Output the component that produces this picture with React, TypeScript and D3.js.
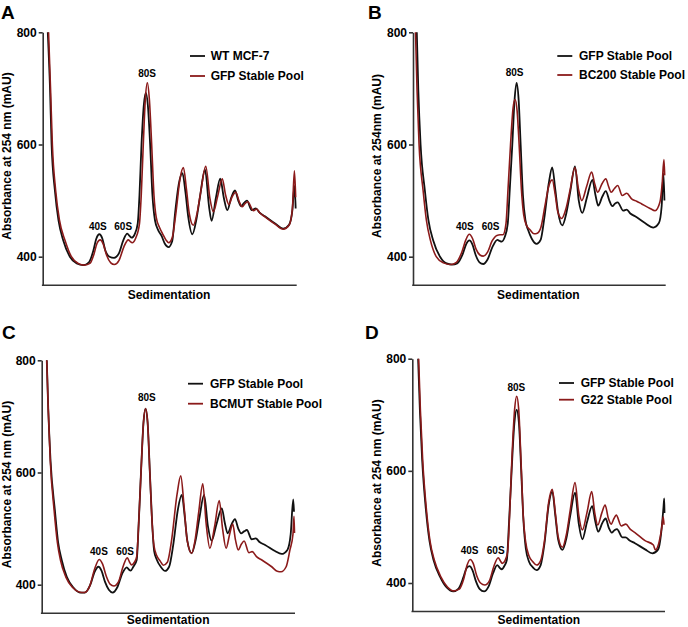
import React, { useEffect, useRef } from "react";
import * as d3 from "d3";

type Pt = [number, number];

// x: position along the gradient (0-100 of the axis), y: absorbance in mAU
const yTicks = [400, 600, 800];
const peakNames = ["40S", "60S", "80S"];

// panel A
const wtMcf7A: Pt[] = [[2.0,800],[2.9,697],[3.5,600],[4.8,518],[6.2,465],[8.1,429],[10.7,400],[13.4,388],[16,385],[18.2,390],[19.9,410],[21.1,432],[22.3,440],[23.5,432],[24.6,412],[26.3,400],[28.1,398],[30,406],[31.8,430],[33.3,441],[34.2,437],[35,434],[36.2,440],[37.4,459],[38.1,510],[38.9,600],[39.8,670],[40.6,692],[41.4,670],[42.3,600],[43.2,510],[44.2,465],[45.5,447],[46.8,437],[48.1,423],[49.5,417],[51,428],[52.1,477],[53.6,530],[55,549],[56.2,515],[57.3,471],[58.9,440],[60.5,466],[61.9,506],[63.9,555],[65.5,489],[66.5,464],[68.2,505],[69.9,539],[71.3,505],[72.7,483],[74.2,505],[75.7,518],[77,500],[78.1,490],[79.3,496],[80.4,500],[82.3,483],[83.9,486],[85.5,478],[87.5,472],[91.5,459],[94.7,450],[97,457],[98.3,483],[99.1,526],[99.6,486]];
const gfpA: Pt[] = [[2.3,800],[3.1,697],[3.8,600],[5.1,518],[6.6,465],[8.8,429],[11.3,400],[14,388],[16.5,385],[18.6,388],[20.2,405],[21.4,424],[22.6,430],[23.8,423],[25.2,402],[26.8,389],[28.2,386],[30,393],[32,418],[33.7,430],[34.5,427],[35.2,425],[36.6,433],[38.1,459],[38.8,510],[39.6,600],[40.4,680],[41.2,710],[42.0,680],[42.9,600],[43.8,510],[44.7,470],[46,452],[47.3,440],[48.5,430],[49.6,425],[51,434],[52.5,480],[54.1,540],[55.4,559],[56.6,520],[57.7,477],[59.3,456],[60.8,478],[62.2,515],[64.2,561],[65.8,505],[67.2,480],[68.9,508],[70.7,539],[72,510],[73.3,493],[74.6,507],[76,515],[77.4,498],[78.6,489],[79.7,495],[80.7,498],[83,482],[84.2,485],[85.5,478],[87.5,471],[91.5,458],[94.7,449],[97,456],[98.3,485],[99.1,553],[99.6,506]];

// panel B
const gfpB: Pt[] = [[1.5,800],[2.1,697],[3.0,600],[4.7,518],[6.1,465],[8.0,429],[10.7,400],[13.3,388],[15.5,386],[17.5,388],[19.7,405],[21.1,423],[22.3,429],[23.5,422],[24.8,403],[26.3,390],[27.8,387],[29.5,395],[31.5,418],[33.4,430],[34.3,428],[35.1,427],[36.3,435],[37.5,459],[38.3,520],[39.3,600],[40.2,680],[41.0,710],[41.8,680],[42.6,600],[43.5,510],[44.5,465],[45.6,447],[47,432],[48.9,423],[50.5,430],[52,470],[53.7,530],[55.1,559],[56.3,520],[57.4,480],[59.1,456],[60.7,478],[62.2,515],[64.1,561],[65.6,500],[67,478],[68.8,505],[71,537],[72.2,510],[73.3,491],[74.9,507],[76.3,517],[77.7,500],[78.9,490],[80,495],[81,497],[83.2,482],[84.6,484],[86,477],[87.9,472],[91.8,460],[95.1,452],[97.3,460],[98.4,490],[99.1,548],[99.5,500]];
const bc200B: Pt[] = [[1.0,800],[1.6,697],[2.4,600],[4.0,518],[5.3,465],[6.9,429],[9.2,400],[12,389],[15,386],[17.2,390],[19.3,408],[20.9,430],[22.3,440],[23.6,432],[25,413],[26.5,403],[27.8,401],[29.5,408],[31.3,428],[33.2,438],[34.5,439],[35.6,439],[36.8,459],[37.6,520],[38.6,600],[39.6,665],[40.4,680],[41.2,660],[42.0,600],[42.9,520],[43.8,475],[45,455],[46.3,448],[47.9,441],[49.2,442],[50.6,452],[52.2,490],[53.8,527],[55.1,537],[56.3,510],[57.3,480],[58.8,468],[60.5,485],[62.2,520],[64.1,559],[65.5,520],[66.8,500],[68.7,525],[70.7,551],[71.9,530],[73.1,515],[74.8,530],[76.3,539],[77.4,525],[78.4,515],[79.8,522],[81,527],[82.8,509],[84.6,513],[86.5,503],[88.5,499],[90.5,494],[93.8,486],[95.8,482],[97.7,497],[98.6,530],[99.3,573],[99.6,545]];

// panel C
const gfpC: Pt[] = [[2.0,800],[2.6,711],[3.5,620],[5.2,533],[6.5,475],[7.9,444],[9.9,414],[12.5,395],[15.1,386],[17.1,386],[19.2,400],[20.9,423],[22.4,432],[23.6,425],[25,405],[26.5,391],[28,386],[29.8,395],[31.8,420],[33.6,431],[34.4,427],[35.1,425],[36.3,433],[37.5,444],[38.3,510],[39.2,600],[40.2,690],[41.0,714],[41.8,690],[42.7,600],[43.6,510],[44.4,460],[45.4,445],[47,432],[48.7,424.5],[50.3,432],[51.9,470],[53.8,535],[55.3,560],[56.5,520],[57.5,478],[59.2,456],[60.8,480],[62.3,520],[64.1,560],[65.6,505],[67.1,478.5],[69,508],[71.1,536],[72.3,510],[73.4,491.6],[75,508],[76.3,517],[77.6,500],[78.7,491.6],[79.9,495],[81,497.5],[82.9,481],[84.5,482.6],[86,476],[88.2,470.8],[92.1,460],[94.7,454.8],[97,462],[98.3,490],[99.3,552],[99.6,530]];
const bcmutC: Pt[] = [[2.0,800],[2.6,711],[3.4,620],[4.9,533],[6.2,475],[7.4,444],[9.5,414],[12.2,395],[14.8,387],[16.8,386],[19,398],[20.9,428],[22.7,445],[24,437],[25.5,415],[27,401],[28.5,397.7],[30.3,405],[32.1,432],[33.8,448],[34.7,440],[35.5,435],[36.6,440],[37.5,450],[38.3,510],[39.2,600],[40.2,690],[41.0,714],[41.8,690],[42.7,600],[43.6,510],[44.3,470],[45.4,452],[46.8,442],[48,434.6],[49.6,440],[51.3,480],[53.4,560],[54.9,594],[56.2,540],[57.4,480],[59.2,456],[60.5,478],[62,530],[63.6,580],[64.9,510],[66.4,465],[68.3,505],[70.1,550],[71.4,500],[72.8,465],[74.2,490],[75.4,508],[76.5,480],[77.6,462],[78.8,472],[79.9,478],[81.8,457],[83.1,459],[84.8,450],[86.9,444],[90.8,432],[93,424],[94.5,423],[96.5,432],[98,462],[99.2,490],[99.6,522],[99.8,492]];

// panel D
const gfpD: Pt[] = [[2.3,800],[3.0,708],[3.9,620],[5.4,530],[6.8,475],[8.4,441],[11,411],[13.6,392],[16.2,385],[18.3,390],[20.2,410],[21.4,426],[22.6,430],[23.8,423],[25.2,403],[26.7,389],[28.4,385],[30.2,394],[32,418],[33.6,432],[34.6,427],[35.4,424.5],[36.5,431],[37.4,441],[38.3,510],[39.3,600],[40.4,685],[41.3,709],[42.2,685],[43.1,600],[44,510],[44.9,462],[46.2,438],[47.7,428],[49.2,423],[50.8,432],[52.3,470],[54,540],[55.4,563],[56.6,520],[57.7,478],[59.4,459],[61,480],[62.5,520],[64.4,561],[65.9,505],[67.3,478],[69.1,508],[71.2,537],[72.4,510],[73.6,491.6],[75.2,507],[76.5,515],[77.8,498],[78.9,490],[80,494],[81,496],[83.1,481.5],[84.4,481.5],[86,476],[88.1,471],[92.1,460],[95,453],[97.3,460],[98.5,490],[99.4,535],[99.7,551],[99.8,525]];
const g22D: Pt[] = [[2.5,800],[3.2,708],[4.1,620],[5.6,530],[7.0,475],[8.7,441],[11.3,411],[13.9,393],[16.5,386],[18.6,389],[20.4,408],[21.7,432],[22.9,442],[24.1,435],[25.5,413],[27,400],[28.7,396.5],[30.5,404],[32.3,430],[34,445],[34.9,439],[35.6,435],[36.7,440],[37.7,455],[38.5,520],[39.4,620],[40.5,710],[41.3,733],[42.1,710],[43,620],[43.9,520],[44.8,475],[46.2,448],[47.7,438],[49.2,432],[50.8,440],[52.3,475],[54,545],[55.4,567],[56.6,525],[57.7,483],[59.4,463.7],[61,487],[62.5,530],[64.4,579],[65.9,520],[67.3,494.6],[69.1,525],[71,563],[72.2,525],[73.4,503.5],[75,525],[76.3,539],[77.6,515],[78.7,505],[79.8,515],[80.7,521],[82.7,501.7],[84.5,505],[86.2,496],[88.1,490],[92.1,475.5],[95.4,467.8],[96.2,459],[97.5,470],[98.6,495],[99.3,518],[99.6,504]];

// peak label anchors, in data units
const peaksA: Pt[] = [[21.7,454],[31.7,453],[41.1,727]];
const peaksB: Pt[] = [[20.5,453],[30.7,453],[40.2,728]];
const peaksC: Pt[] = [[22.6,460],[32.9,460],[41.5,733]];
const peaksD: Pt[] = [[22.7,458],[33.0,458],[41.2,749]];

const BLACK = "#111";
const RED = "#8b1a1a";
const FONT = "'Liberation Sans', Arial, Helvetica, sans-serif";

const panels = [
  { letter: "A", lx: 1, ly: 18.5, left: 42.7, right: 296.7, y800: 32.3, y400: 256.7,
    ylab: "Absorbance at 254 nm (mAU)", ylx: 7, yly: 156, xlx: 169, xly: 295,
    legX: 190, legTX: 210.7, legY: [56, 76],
    names: ["WT MCF-7", "GFP Stable Pool"], series: [wtMcf7A, gfpA], peaks: peaksA },
  { letter: "B", lx: 368, ly: 18.5, left: 413, right: 665.7, y800: 32.3, y400: 256.7,
    ylab: "Absorbance at 254nm (mAU)", ylx: 376.5, yly: 156, xlx: 538.3, xly: 295,
    legX: 557.3, legTX: 579, legY: [56, 75],
    names: ["GFP Stable Pool", "BC200 Stable Pool"], series: [gfpB, bc200B], peaks: peaksB },
  { letter: "C", lx: 2, ly: 338.7, left: 41.7, right: 295, y800: 360.3, y400: 584.7,
    ylab: "Absorbance at 254 nm (mAU)", ylx: 6.5, yly: 484.5, xlx: 168.2, xly: 620,
    legX: 188, legTX: 210, legY: [383.7, 403.7],
    names: ["GFP Stable Pool", "BCMUT Stable Pool"], series: [gfpC, bcmutC], peaks: peaksC },
  { letter: "D", lx: 365, ly: 338.7, left: 412.3, right: 665, y800: 358.7, y400: 583,
    ylab: "Absorbance at 254 nm (mAU)", ylx: 376.5, yly: 483, xlx: 538.8, xly: 620,
    legX: 559, legTX: 580.7, legY: [383, 399.7],
    names: ["GFP Stable Pool", "G22 Stable Pool"], series: [gfpD, g22D], peaks: peaksD },
];

function Panel({ p }: { p: (typeof panels)[number] }) {
  const yRef = useRef<SVGGElement>(null);
  const xRef = useRef<SVGGElement>(null);

  const x = d3.scaleLinear().domain([0, 100]).range([p.left, p.right]);
  const y = d3.scaleLinear().domain([400, 800]).range([p.y400, p.y800]);
  const yAxisScale = d3.scaleLinear().domain([350, 800]).range([y(350), y(800)]);

  useEffect(() => {
    const gy = d3.select(yRef.current!);
    gy.attr("transform", `translate(${p.left},0)`)
      .call(d3.axisLeft(yAxisScale).tickValues(yTicks).tickSize(4).tickPadding(2).tickSizeOuter(0) as any);
    gy.attr("font-size", 12).attr("font-family", FONT).attr("font-weight", "bold");
    gy.selectAll("path, line").attr("stroke", "#333").attr("stroke-width", 1.6);
    gy.selectAll("text").attr("fill", "#000");

    const gx = d3.select(xRef.current!);
    gx.attr("transform", `translate(0,${y(350)})`)
      .call(d3.axisBottom(x).tickValues([]).tickSizeOuter(0) as any);
    gx.select(".domain").attr("stroke", "#333").attr("stroke-width", 1.6)
      .attr("d", `M${p.left - 0.8},0.5H${p.right}`);
  }, []);

  const line = d3.line<Pt>().x((d) => x(d[0])).y((d) => y(d[1])).curve(d3.curveMonotoneX);
  const colors = [BLACK, RED];

  return (
    <g fontFamily={FONT}>
      <text x={p.lx} y={p.ly} fontSize={19} fontWeight="bold">{p.letter}</text>
      <g ref={yRef} />
      <g ref={xRef} />
      {p.series.map((s, i) => (
        <path key={i} d={line(s) || ""} fill="none" stroke={colors[i]}
          strokeWidth={i === 0 ? 1.8 : 1.6} strokeLinejoin="round" />
      ))}
      {p.peaks.map((d, i) => (
        <text key={i} x={x(d[0])} y={y(d[1])} fontSize={10} fontWeight="bold"
          textAnchor="middle" dominantBaseline="central">{peakNames[i]}</text>
      ))}
      {p.names.map((n, i) => (
        <g key={n}>
          <line x1={p.legX} x2={p.legX + 15} y1={p.legY[i]} y2={p.legY[i]} stroke={colors[i]} strokeWidth={1.8} />
          <text x={p.legTX} y={p.legY[i]} fontSize={12} fontWeight="bold" dominantBaseline="central">{n}</text>
        </g>
      ))}
      <text transform={`translate(${p.ylx},${p.yly}) rotate(-90)`} fontSize={12} fontWeight="bold"
        textAnchor="middle" dominantBaseline="central">{p.ylab}</text>
      <text x={p.xlx} y={p.xly} fontSize={12} fontWeight="bold" textAnchor="middle"
        dominantBaseline="central">Sedimentation</text>
    </g>
  );
}

export default function App() {
  return (
    <svg width={688} height={627} style={{ position: "absolute", left: 0, top: 0, background: "#fff" }}>
      {panels.map((p) => <Panel key={p.letter} p={p} />)}
    </svg>
  );
}
